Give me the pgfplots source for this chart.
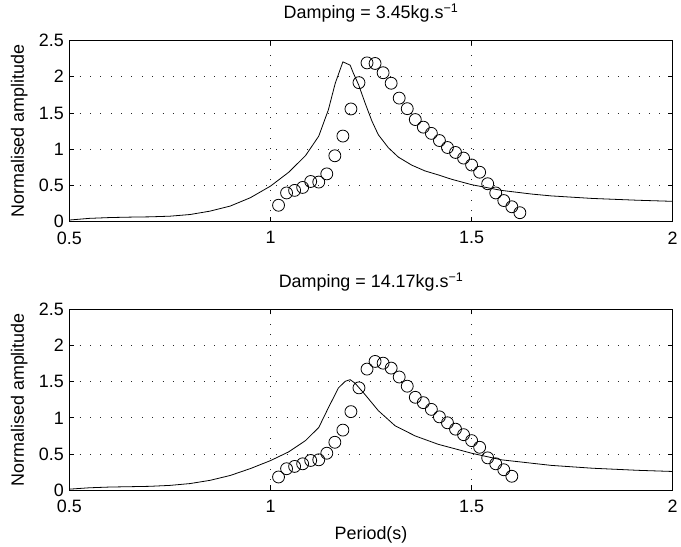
\documentclass[border=0pt]{standalone}
\usepackage{fontspec}
\setmainfont{Liberation Sans}
\usepackage{pgfplots}
\pgfplotsset{compat=1.18}
\newcommand\ff{\fontsize{18bp}{21bp}\selectfont}
\pgfplotsset{myax/.style={
  scale only axis, width=606.3bp, height=182bp,
  xmin=0.5, xmax=2, ymin=0, ymax=2.5,
  xtick={0.5,1,1.5,2}, ytick={0,0.5,1,1.5,2,2.5},
  tick align=inside, major tick length=5bp,
  xtick pos=both, ytick pos=both,
  grid=major,
  major grid style={black!85, line width=0.9bp, dash pattern=on 0.9bp off 9.5bp},
  axis line style={black, line width=0.9bp},
  every tick/.style={black, line width=0.8bp},
  tick label style={font=\ff},
  xticklabel style={yshift=-6.5bp},
  yticklabel style={xshift=-2bp},
  label style={font=\ff},
  title style={font=\ff, at={(axis description cs:0.5,1)}, anchor=base, yshift=15.7bp},
  /pgf/number format/assume math mode=true,
  ylabel={Normalised amplitude},
  ylabel style={at={(axis description cs:-0.0754,0.5)}, anchor=base},
  curve/.style={black, line width=0.8bp, no markers},
  circ/.style={black, only marks, mark=o, mark size=6bp, mark options={line width=0.8bp}},
}}
\begin{document}
\begin{tikzpicture}
\path (0,0) rectangle (681bp,547bp);
\begin{axis}[myax, at={(69.7bp,324.3bp)}, anchor=south west,
  title={Damping = 3.45kg.s\textsuperscript{−1}}]
\addplot[curve] coordinates {
(0.50,0.022) (0.55,0.045) (0.60,0.056) (0.65,0.062) (0.70,0.066) (0.75,0.075)
(0.80,0.098) (0.85,0.145) (0.90,0.215) (0.95,0.33) (1.00,0.49) (1.045,0.68)
(1.087,0.91) (1.12,1.18) (1.144,1.545) (1.161,1.91) (1.18,2.205) (1.198,2.16)
(1.206,2.05) (1.219,1.89) (1.235,1.64) (1.252,1.39) (1.268,1.20) (1.293,1.02)
(1.318,0.89) (1.351,0.78) (1.384,0.70) (1.417,0.645) (1.45,0.585) (1.50,0.51)
(1.574,0.431) (1.65,0.38) (1.698,0.355) (1.80,0.32) (1.913,0.295) (2.00,0.28)
};
\addplot[circ] coordinates {
(1.02,0.226) (1.04,0.396) (1.06,0.431) (1.08,0.472) (1.10,0.554) (1.12,0.546)
(1.14,0.659) (1.16,0.909) (1.18,1.181) (1.20,1.555) (1.22,1.918) (1.24,2.191)
(1.26,2.183) (1.28,2.055) (1.30,1.910) (1.32,1.705) (1.34,1.559) (1.36,1.409)
(1.38,1.304) (1.40,1.218) (1.42,1.119) (1.44,1.023) (1.46,0.955) (1.48,0.877)
(1.50,0.782) (1.52,0.682) (1.54,0.523) (1.56,0.396) (1.58,0.291) (1.60,0.205)
(1.62,0.123)
};
\end{axis}
\begin{axis}[myax, at={(69.7bp,54.3bp)}, anchor=south west,
  title={Damping = 14.17kg.s\textsuperscript{−1}},
  xlabel={Period(s)},
  xlabel style={at={(axis description cs:0.5,0)}, anchor=base, yshift=-49bp}]
\addplot[curve] coordinates {
(0.50,0.016) (0.55,0.035) (0.60,0.045) (0.65,0.05) (0.70,0.055) (0.75,0.068)
(0.80,0.093) (0.85,0.138) (0.90,0.205) (0.95,0.30) (1.00,0.41) (1.045,0.53)
(1.087,0.686) (1.12,0.867) (1.144,1.14) (1.169,1.414) (1.186,1.505) (1.198,1.527)
(1.21,1.48) (1.235,1.322) (1.268,1.10) (1.31,0.89) (1.36,0.75) (1.417,0.635)
(1.50,0.512) (1.574,0.421) (1.698,0.344) (1.80,0.305) (1.913,0.276) (2.00,0.26)
};
\addplot[circ] coordinates {
(1.02,0.184) (1.04,0.298) (1.06,0.330) (1.08,0.366) (1.10,0.412) (1.12,0.421)
(1.14,0.512) (1.16,0.663) (1.18,0.831) (1.20,1.086) (1.22,1.414) (1.24,1.673)
(1.26,1.779) (1.28,1.755) (1.30,1.687) (1.32,1.564) (1.34,1.437) (1.36,1.284)
(1.38,1.210) (1.40,1.117) (1.42,1.014) (1.44,0.932) (1.46,0.844) (1.48,0.768)
(1.50,0.686) (1.52,0.594) (1.54,0.448) (1.56,0.366) (1.58,0.284) (1.60,0.194)
};
\end{axis}
\end{tikzpicture}
\end{document}
